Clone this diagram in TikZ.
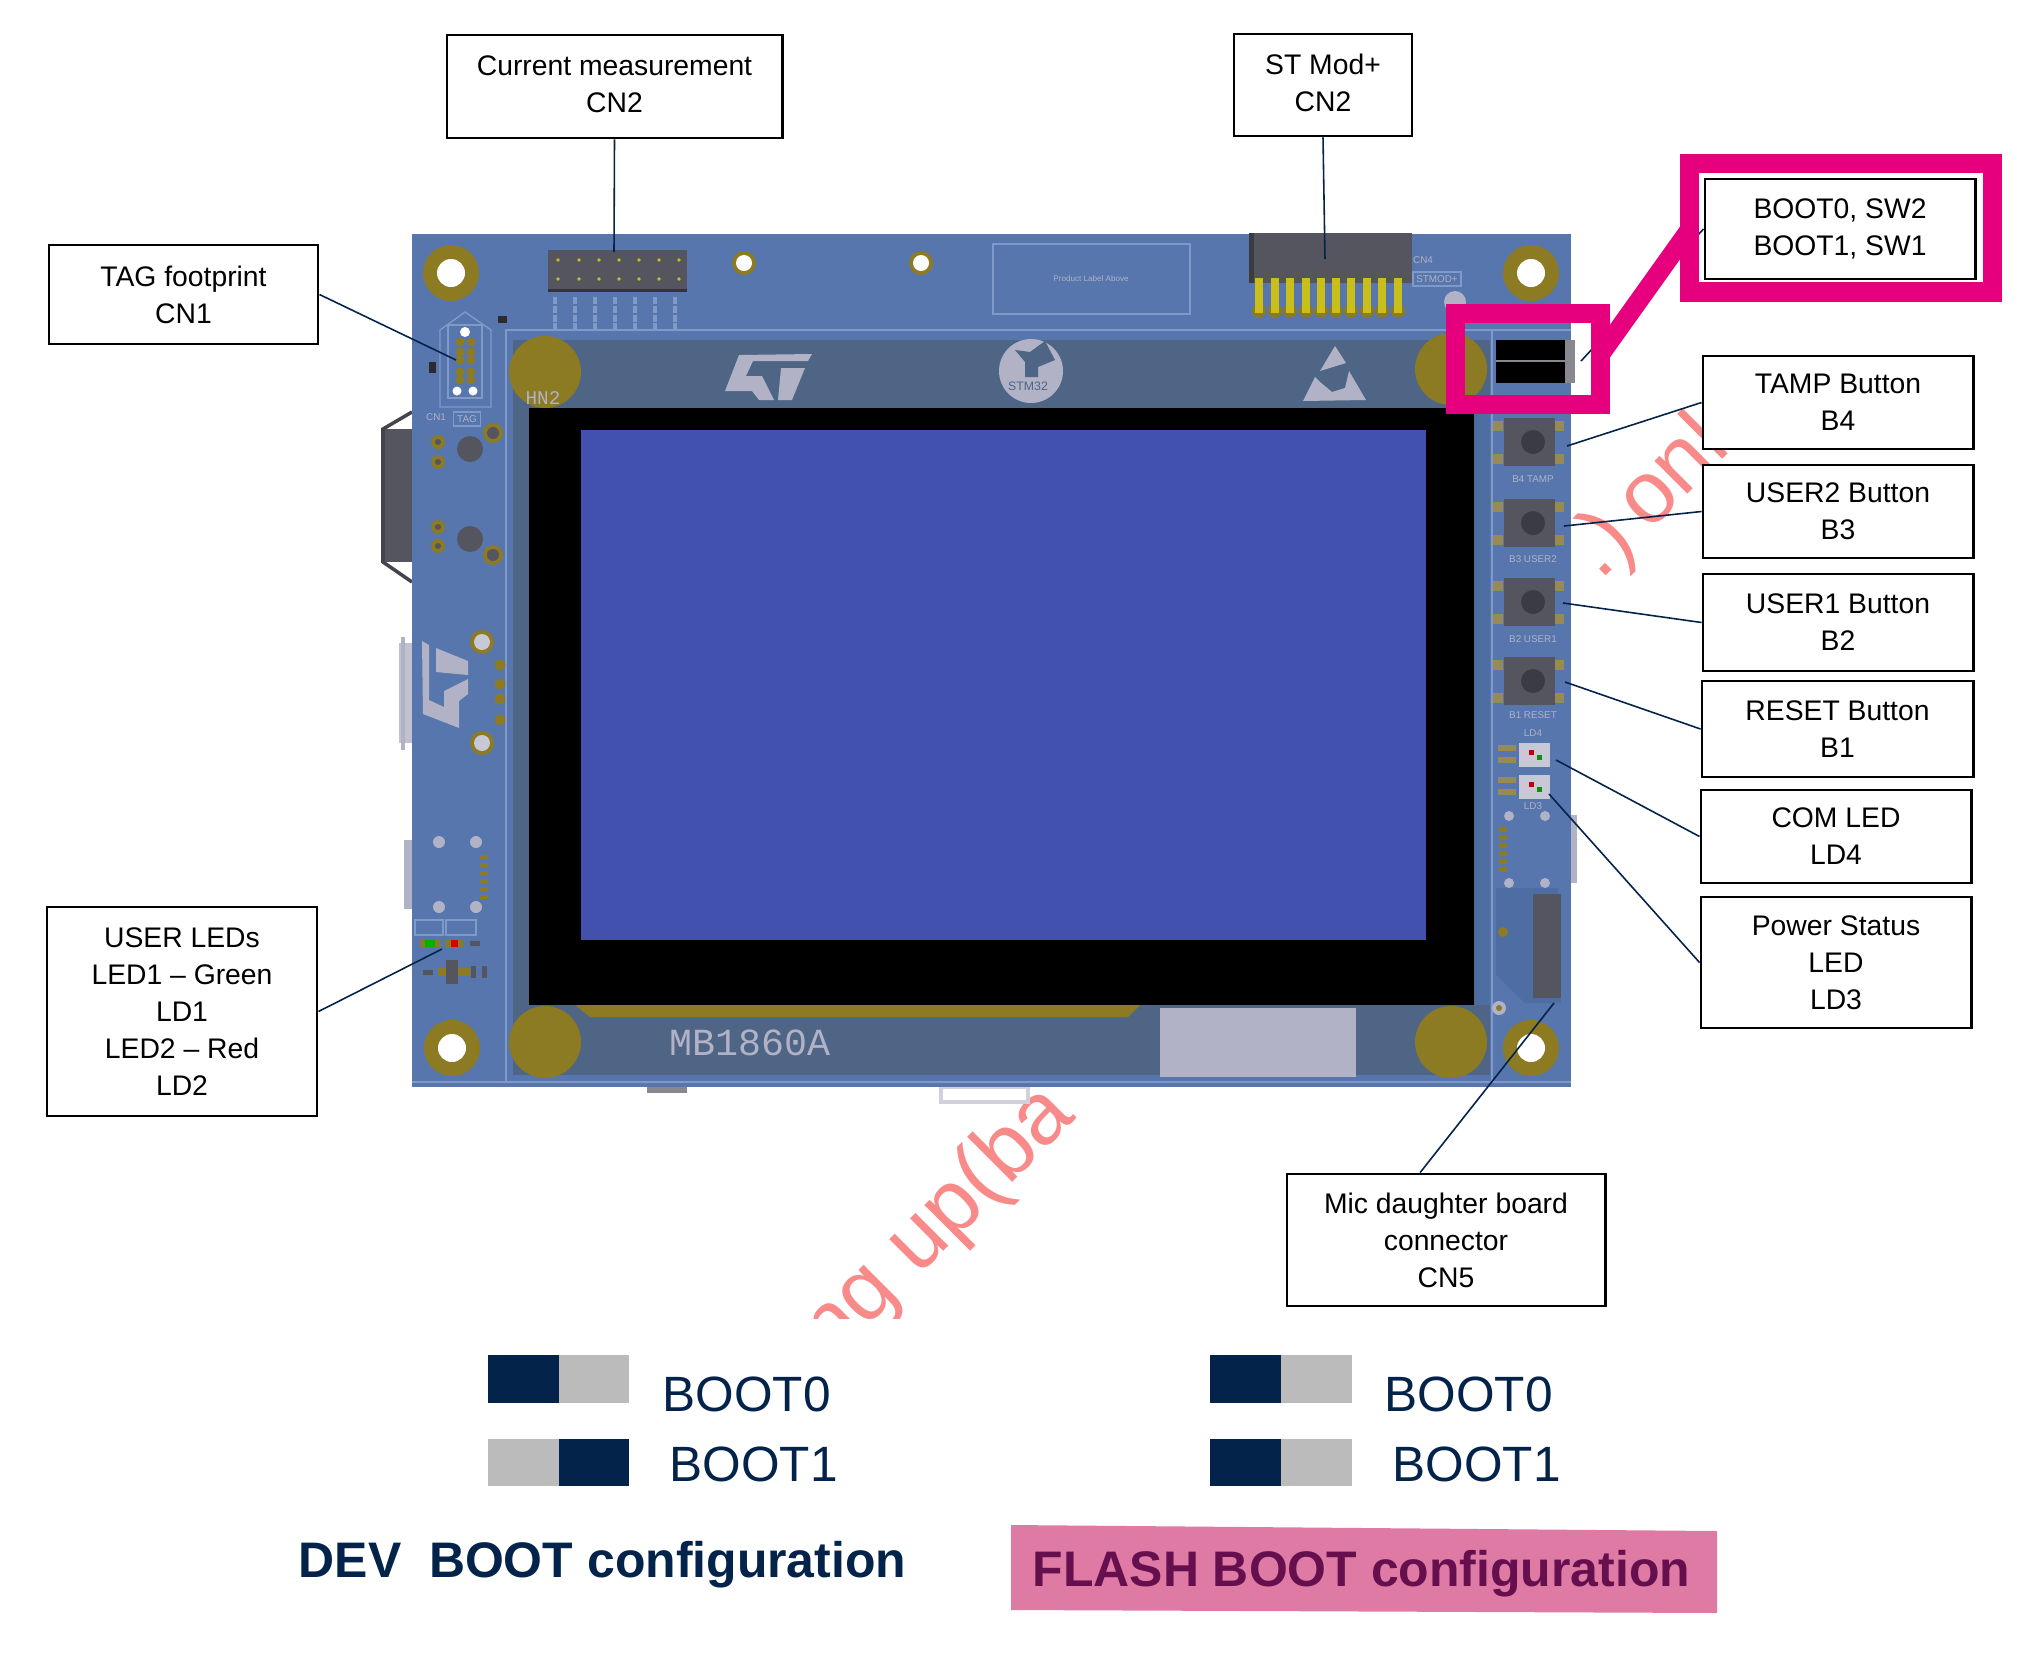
\documentclass[tikz,border=0pt]{standalone}
\usepackage{fontspec}
\setmainfont{Liberation Sans}
\setmonofont{Liberation Mono}
\definecolor{pcb}{HTML}{5676AD}
\definecolor{pcbline}{HTML}{7F9AC6}
\definecolor{pcbside}{HTML}{4E6DA2}
\definecolor{panel}{HTML}{4F6585}
\definecolor{golden}{HTML}{8C7B22}
\definecolor{lcd}{HTML}{4250AE}
\definecolor{silk}{HTML}{B1B2C6}
\definecolor{part}{HTML}{55555F}
\definecolor{pinyel}{HTML}{C9BE1A}
\definecolor{navy}{HTML}{03234B}
\definecolor{swgray}{HTML}{BBBBBB}
\definecolor{frame}{HTML}{E6007E}
\definecolor{flashbg}{HTML}{DF7AA5}
\definecolor{flashtx}{HTML}{660F4E}
\definecolor{stamp}{HTML}{F98A8A}
\tikzset{
  lblbox/.style={draw=black, line width=0.8pt, fill=white, inner sep=0pt, align=center, font=\fontsize{8.05}{10.5}\selectfont},
  lowtext/.style={execute at begin node={\rule{0pt}{8pt}}},
  hightext/.style={execute at end node={\rule[-1.5pt]{0pt}{0pt}}},
  conn/.style={draw=navy, line width=0.45pt},
  frm/.style={draw=frame, line width=0.19cm, inner sep=0pt},
  tiny/.style={text=silk, inner sep=0pt, font=\fontsize{2.8}{3}\selectfont},
  bootlbl/.style={anchor=base west, inner sep=0pt, text=navy, font=\fontsize{14.1}{16}\selectfont},
  cfglbl/.style={anchor=base west, inner sep=0pt, font=\fontsize{14.2}{16}\selectfont\bfseries},
  wmark/.style={inner sep=0pt, text=stamp, rotate=45, font=\fontsize{25}{28}\selectfont},
}
\newcommand{\stlogo}{%
  \fill[silk] (14,1) -- (87,0) -- (83,7) -- (28,7) -- (21,22) -- (37,22) -- (49,46) -- (34,46) -- (27,37) -- (0,37) -- cycle;
  \fill[silk] (56,14) -- (80,14) -- (67,46) -- (53,46) -- cycle;
}
\begin{document}
\begin{tikzpicture}[x=0.01cm, y=-0.01cm]
  \useasboundingbox (0,0) rectangle (2030,1654);
  \fill[white] (0,0) rectangle (2030,1654);
  % watermark
  \begin{scope}
    \clip (0,0) rectangle (2030,1318);
    \node[wmark, anchor=base east] (wmleft) at (1078,1117) {Setting up(ba};
    \node[wmark, anchor=base west] (wmright) at (1600,582) {.)\hspace{-.2em} onl};
  \end{scope}
  % parts sticking out of the board
  \fill[part] (383,429) rectangle (412,562);
  \draw[part!80!black, line width=1pt] (412,412) -- (383,429) -- (383,562) -- (412,582);
  \fill[silk!80!white] (399,643) rectangle (412,743);
  \draw[silk, line width=1pt] (403,637) -- (403,750);
  \fill[silk] (404,840) rectangle (412,909);
  \fill[silk] (1571,815) rectangle (1577,883);
  \fill[part!70!white] (647,1087) rectangle (687,1093);
  \draw[silk!60!white, fill=white, line width=1pt] (941,1087) rectangle (1028,1102);
  % board
  \fill[pcb] (412,234) rectangle (1571,1087);
  \fill[panel] (513,340) rectangle (1490,1075);
  \fill[pcbside] (1475,409) rectangle (1490,1005);
  \draw[pcbline, line width=0.5pt] (506,1082) -- (506,330) -- (1571,330);
  \draw[pcbline, line width=0.5pt] (412,1082) -- (1571,1082);
  \draw[pcbline, line width=0.5pt] (1492,330) -- (1492,1082);
  % mounting holes
  \foreach \px/\py in {545/372, 1451/369, 545/1042, 1451/1042}
    \fill[golden] (\px,\py) circle [radius=36];
  \foreach \px/\py in {451/273, 1531/273, 452/1048, 1531/1048} {
    \fill[golden] (\px,\py) circle [radius=28];
    \fill[white] (\px,\py) circle [radius=14];
  }
  \foreach \px in {744, 921} {
    \fill[golden] (\px,263) circle [radius=12];
    \fill[white] (\px,263) circle [radius=8];
  }
  % display
  \fill[golden] (575,1005) -- (590,1017) -- (1128,1017) -- (1140,1005) -- cycle;
  \fill[black] (529,408) rectangle (1474,1005);
  \fill[lcd] (581,430) rectangle (1426,940);
  \fill[silk] (1160,1008) rectangle (1356,1077);
  \node[inner sep=0pt, text=silk, font=\ttfamily\fontsize{10.9}{12}\selectfont] (lblboard) at (750,1043) {MB1860A};
  \node[inner sep=0pt, text=silk, font=\ttfamily\fontsize{5.5}{6}\selectfont] (lblhn) at (543,398) {HN2};
  % logos
  \begin{scope}[shift={(725,354)}]
    \stlogo
  \end{scope}
  \begin{scope}[shift={(422,728)}, x={(0cm,0.01cm)}, y={(0.01cm,0cm)}]
    \stlogo
  \end{scope}
  \fill[silk] (1031,371) circle [radius=32];
  \fill[panel] (1015,350) -- (1030,352) -- (1045,341) -- (1055,360) -- (1038,367) -- (1038,377) -- (1025,377) -- (1025,362) -- cycle;
  \node[inner sep=0pt, text=panel, font=\fontsize{3.5}{4}\selectfont] (lblstm) at (1028,386) {STM32};
  \fill[silk] (1335,346) -- (1346,363) -- (1320,371) -- cycle;
  \fill[silk] (1315,377) -- (1303,401) -- (1366,400) -- (1349,371) -- (1345,388) -- (1332,392) -- (1320,382) -- cycle;
  % current measurement header
  \fill[part] (548,250) rectangle (687,292);
  \fill[part!60!black] (548,289) rectangle (687,292);
  \foreach \px in {558,579,599,619,639,659,679}
    \foreach \py in {260,279}
      \fill[pinyel] (\px,\py) circle [radius=1.8];
  \foreach \px in {555,575,595,615,635,655,675}
    \draw[pcbline, line width=1.2pt, dash pattern=on 2pt off 0.5pt] (\px,297) -- (\px,330);
  \draw[pcbline, line width=0.4pt] (993,244) rectangle (1190,314);
  \node[tiny, font=\fontsize{2.3}{3}\selectfont] (lblproduct) at (1091,279) {Product Label Above};
  % stmod connector
  \fill[part] (1249,233) rectangle (1412,283);
  \fill[part!70!black] (1249,233) rectangle (1254,283);
  \foreach \px in {1259,1275,1290,1306,1321,1336,1351,1367,1382,1398} {
    \fill[golden] (\px,311) circle [radius=7];
    \fill[pinyel] (\px-4,278) rectangle (\px+4,313);
  }
  \node[tiny] (lblcnfour) at (1423,260) {CN4};
  \node[tiny, draw=pcbline, inner sep=1pt] (lblstmod) at (1437,279) {STMOD+};
  \fill[silk] (1455,302) circle [radius=11];
  % tag footprint
  \draw[pcbline, line width=0.4pt] (440,407) -- (440,330) -- (465,312) -- (491,330) -- (491,407) -- cycle;
  \draw[pcbline, line width=0.4pt] (448,398) rectangle (482,325);
  \foreach \py in {342,352,360,372,380} {
    \fill[golden] (460,\py) circle [radius=4.5];
    \fill[golden] (471,\py) circle [radius=4.5];
  }
  \fill[white] (465,332) circle [radius=5];
  \fill[white] (457,391) circle [radius=4.5];
  \fill[white] (473,391) circle [radius=4.5];
  \node[tiny] (lblcnone) at (436,417) {CN1};
  \node[tiny, draw=pcbline, inner sep=1pt] (lbltag) at (467,419) {TAG};
  \fill[part!50!black] (498,316) rectangle (507,323);
  \fill[part!50!black] (429,362) rectangle (436,373);
  % left edge parts
  \foreach \py in {442,462,527,546} {
    \fill[golden] (438,\py) circle [radius=7];
    \fill[part] (438,\py) circle [radius=3];
  }
  \foreach \py in {449,539}
    \fill[part] (470,\py) circle [radius=13];
  \foreach \py in {433,555} {
    \fill[golden] (493,\py) circle [radius=10];
    \fill[part] (493,\py) circle [radius=6];
  }
  \foreach \py in {642,743} {
    \fill[golden] (482,\py) circle [radius=12];
    \fill[silk!70!white] (482,\py) circle [radius=8];
  }
  \foreach \py in {665,684,699,720}
    \fill[golden] (500,\py) circle [radius=5.5];
  \foreach \px/\py in {439/842, 476/842, 439/907, 476/907}
    \fill[silk] (\px,\py) circle [radius=6];
  \foreach \py in {855,863,871,879,887,895}
    \fill[golden] (480,\py) rectangle (488,\py+4);
  % user leds
  \draw[pcbline, line width=0.3pt] (415,920) rectangle (443,935);
  \draw[pcbline, line width=0.3pt] (446,920) rectangle (476,935);
  \fill[golden] (420,940) rectangle (440,947);
  \fill[green!70!black] (425,940) rectangle (435,947);
  \fill[golden] (446,940) rectangle (463,947);
  \fill[red!85!black] (451,940) rectangle (458,947);
  \fill[part] (470,941) rectangle (480,946);
  \fill[golden] (438,968) rectangle (470,976);
  \fill[part] (446,960) rectangle (458,984);
  \fill[part] (423,970) rectangle (433,975);
  \fill[part] (471,966) rectangle (476,978);
  \fill[part] (482,966) rectangle (487,978);
  % slide switches
  \fill[pcb] (1496,335) rectangle (1571,396);
  \fill[black] (1496,340) rectangle (1565,383);
  \fill[part!70!white] (1565,340) rectangle (1575,383);
  \draw[part!70!white, line width=0.3pt] (1496,361) -- (1575,361);
  % push buttons
  \foreach \py in {418,499,578,657} {
    \foreach \px in {1498,1559} {
      \fill[golden!70!silk] (\px-5,\py+3) rectangle (\px+5,\py+13);
      \fill[golden!70!silk] (\px-5,\py+36) rectangle (\px+5,\py+46);
    }
    \fill[part] (1504,\py) rectangle (1555,\py+48);
    \fill[part!70!black] (1533,\py+24) circle [radius=12];
  }
  \node[tiny] (lblbfour) at (1533,479) {B4 TAMP};
  \node[tiny] (lblbthree) at (1533,559) {B3 USER2};
  \node[tiny] (lblbtwo) at (1533,639) {B2 USER1};
  \node[tiny] (lblbone) at (1533,715) {B1 RESET};
  % status leds
  \foreach \py in {743,775} {
    \fill[golden!70!silk] (1498,\py+2) rectangle (1516,\py+8);
    \fill[golden!70!silk] (1498,\py+14) rectangle (1516,\py+20);
    \fill[silk!70!white] (1519,\py) rectangle (1550,\py+24);
    \fill[red!75!black] (1529,\py+7) rectangle (1534,\py+12);
    \fill[green!60!black] (1537,\py+12) rectangle (1542,\py+17);
  }
  \node[tiny] (lblldfour) at (1533,733) {LD4};
  \node[tiny] (lblldthree) at (1533,806) {LD3};
  % mic connector
  \foreach \px/\py in {1509/816, 1545/816, 1509/883, 1545/883}
    \fill[silk] (\px,\py) circle [radius=5];
  \foreach \py in {827,835,843,851,859,867}
    \fill[golden] (1499,\py) rectangle (1507,\py+5);
  \fill[pcbside] (1496,888) -- (1558,888) -- (1561,1003) -- (1525,1003) -- (1496,975) -- cycle;
  \fill[part] (1533,894) rectangle (1561,998);
  \fill[golden] (1503,932) circle [radius=5];
  \fill[silk] (1499,1008) circle [radius=7];
  \fill[golden] (1499,1008) circle [radius=3];
  % label boxes
  \node[lblbox, hightext, minimum width=3.35cm, minimum height=1.03cm] (lblcurrent) at (614.5,86.5) {Current measurement\\CN2};
  \node[lblbox, hightext, minimum width=1.78cm, minimum height=1.02cm] (lblmod) at (1323,85) {ST Mod+\\CN2};
  \node[lblbox, minimum width=2.69cm, minimum height=0.99cm] (lbltagfp) at (183.5,294.5) {TAG footprint\\CN1};
  \node[lblbox, minimum width=2.70cm, minimum height=2.09cm] (lblleds) at (182,1011.5) {USER LEDs\\LED1 – Green\\LD1\\LED2 – Red\\LD2};
  \node[lblbox, minimum width=2.70cm, minimum height=1.00cm] (lblboot) at (1840,229) {BOOT0, SW2\\BOOT1, SW1};
  \node[lblbox, lowtext, minimum width=2.70cm, minimum height=0.93cm] (lbltamp) at (1838,402.5) {TAMP Button\\B4};
  \node[lblbox, lowtext, minimum width=2.70cm, minimum height=0.93cm] (lbluser2) at (1838,511.5) {USER2 Button\\B3};
  \node[lblbox, lowtext, minimum width=2.70cm, minimum height=0.97cm] (lbluser1) at (1838,622.5) {USER1 Button\\B2};
  \node[lblbox, lowtext, minimum width=2.71cm, minimum height=0.96cm] (lblreset) at (1837.5,729) {RESET Button\\B1};
  \node[lblbox, lowtext, minimum width=2.70cm, minimum height=0.93cm] (lblcom) at (1836,836.5) {COM LED\\LD4};
  \node[lblbox, lowtext, minimum width=2.70cm, minimum height=1.31cm] (lblpower) at (1836,962.5) {Power Status\\LED\\LD3};
  \node[lblbox, lowtext, minimum width=3.18cm, minimum height=1.32cm] (lblmic) at (1446,1240) {Mic daughter board\\connector\\CN5};
  % connectors
  \coordinate (ptcurrent) at (614,252);
  \coordinate (ptmod) at (1325,259);
  \coordinate (pttag) at (456,360);
  \coordinate (ptleds) at (442,949);
  \coordinate (ptboot) at (1581,361);
  \coordinate (pttamp) at (1567,446);
  \coordinate (ptuser2) at (1564,526);
  \coordinate (ptuser1) at (1563,603);
  \coordinate (ptreset) at (1565,682);
  \coordinate (ptcom) at (1556,760);
  \coordinate (ptpower) at (1549,794);
  \coordinate (ptmic) at (1554,1003);
  \draw[conn] (lblcurrent.south) -- (ptcurrent);
  \draw[conn] (lblmod.south) -- (ptmod);
  \draw[conn] (lbltagfp.east) -- (pttag);
  \draw[conn] (lblleds.east) -- (ptleds);
  \draw[conn] (lblboot.west) -- (ptboot);
  \draw[conn] (lbltamp.west) -- (pttamp);
  \draw[conn] (lbluser2.west) -- (ptuser2);
  \draw[conn] (lbluser1.west) -- (ptuser1);
  \draw[conn] (lblreset.west) -- (ptreset);
  \draw[conn] (lblcom.west) -- (ptcom);
  \draw[conn] (lblpower.west) -- (ptpower);
  \draw[conn] (lblmic.111) -- (ptmic);
  % pink highlight
  \coordinate (frma) at (1600,355);
  \coordinate (frmb) at (1690,229);
  \draw[frame, line width=0.19cm] (frma) -- (frmb);
  \node[frm, minimum width=1.445cm, minimum height=0.91cm] (frmswitch) at (1527.7,359) {};
  \node[frm, minimum width=3.025cm, minimum height=1.285cm] (frmboot) at (1840.7,227.7) {};
  % boot settings
  \fill[navy] (488,1355) rectangle (559,1403);
  \fill[swgray] (559,1355) rectangle (629,1403);
  \fill[swgray] (488,1439) rectangle (559,1486);
  \fill[navy] (559,1439) rectangle (629,1486);
  \fill[navy] (1210,1355) rectangle (1281,1403);
  \fill[swgray] (1281,1355) rectangle (1352,1403);
  \fill[navy] (1210,1439) rectangle (1281,1486);
  \fill[swgray] (1281,1439) rectangle (1352,1486);
  \node[bootlbl] (devzero) at (662,1411) {BOOT0};
  \node[bootlbl] (devone) at (669,1481) {BOOT1};
  \node[bootlbl] (flashzero) at (1384,1411) {BOOT0};
  \node[bootlbl] (flashone) at (1392,1481) {BOOT1};
  \node[cfglbl, text=navy] (devcfg) at (298,1577) {DEV\ \ BOOT configuration};
  \fill[flashbg] (1011,1525) -- (1717,1531) -- (1717,1613) -- (1011,1610) -- cycle;
  \node[cfglbl, text=flashtx] (flashcfg) at (1032,1586) {FLASH BOOT configuration};
\end{tikzpicture}
\end{document}
